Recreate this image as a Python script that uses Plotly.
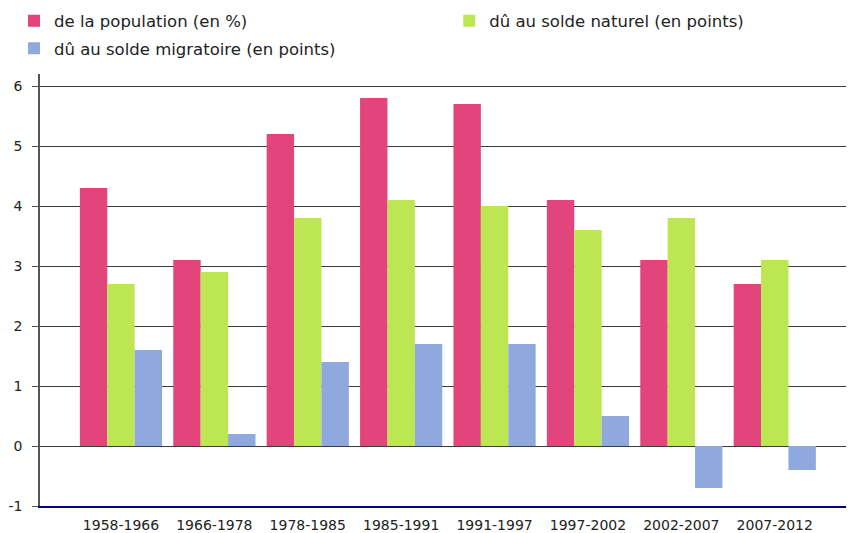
import plotly.graph_objects as go

periods = ["1958-1966", "1966-1978", "1978-1985", "1985-1991",
           "1991-1997", "1997-2002", "2002-2007", "2007-2012"]
population = [4.3, 3.1, 5.2, 5.8, 5.7, 4.1, 3.1, 2.7]
solde_naturel = [2.7, 2.9, 3.8, 4.1, 4.0, 3.6, 3.8, 3.1]
solde_migratoire = [1.6, 0.2, 1.4, 1.7, 1.7, 0.5, -0.7, -0.4]
y_ticks = [-1, 0, 1, 2, 3, 4, 5, 6]
y_tick_labels = ["-1", "0", "1", "2", "3", "4", "5", "6"]

FONT = "DejaVu Sans"

fig = go.Figure()
fig.add_trace(go.Bar(x=periods, y=population, name="de la population (en %)",
                     marker=dict(color="#E2457C", line=dict(width=0)),
                     legend="legend", legendgroup="a"))
fig.add_trace(go.Bar(x=periods, y=solde_naturel, name="dû au solde naturel (en points)",
                     marker=dict(color="#BCE652", line=dict(width=0)),
                     legend="legend2", legendgroup="b"))
fig.add_trace(go.Bar(x=periods, y=solde_migratoire, name="dû au solde migratoire (en points)",
                     marker=dict(color="#8FA8DE", line=dict(width=0)),
                     legend="legend", legendgroup="c"))

fig.update_layout(
    width=846, height=525,
    margin=dict(l=32, r=2, t=66, b=27, autoexpand=False),
    paper_bgcolor="white", plot_bgcolor="white",
    font=dict(family=FONT, size=13, color="#222222"),
    barmode="group", bargap=0.12, bargroupgap=0,
    showlegend=True,
    legend=dict(x=-0.032, y=1.163, xanchor="left", yanchor="top",
                orientation="v", font=dict(size=16.5, family=FONT, color="#222222"),
                bgcolor="rgba(0,0,0,0)", tracegroupgap=3),
    legend2=dict(x=0.504, y=1.163, xanchor="left", yanchor="top",
                 orientation="v", font=dict(size=16.5, family=FONT, color="#222222"),
                 bgcolor="rgba(0,0,0,0)"),
    xaxis=dict(type="category", range=[-0.867, 7.827], showgrid=False,
               showline=True, linecolor="#000080", linewidth=1.5,
               ticks="", tickfont=dict(size=14, family=FONT, color="#222222"),
               ticklabelstandoff=5, automargin=False, zeroline=False),
    yaxis=dict(range=[-1, 6.2], tickvals=y_ticks, ticktext=y_tick_labels,
               showgrid=True, gridcolor="#3a3a3a", gridwidth=1, zeroline=False,
               showline=True, linecolor="#555555", linewidth=1.5,
               ticks="outside", ticklen=6, tickcolor="#555555",
               tickfont=dict(size=14, family=FONT, color="#222222"),
               ticklabelstandoff=7, automargin=False),
)

fig.write_html("out.html")
